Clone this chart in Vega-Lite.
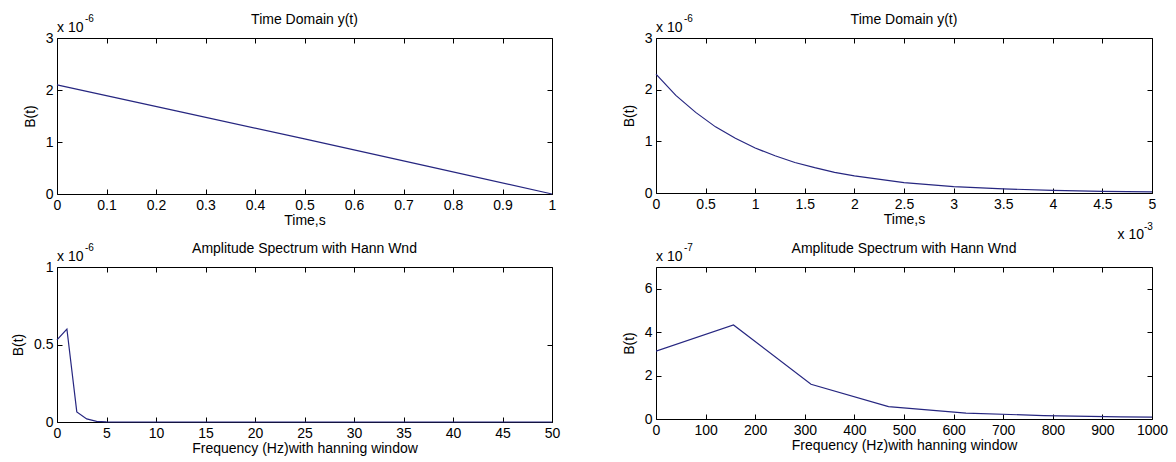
{
  "$schema": "https://vega.github.io/schema/vega-lite/v6.json",
  "padding": {"left": 11, "top": 12, "right": 2, "bottom": 2},
  "background": "#ffffff",
  "columns": 2,
  "spacing": {"column": 104, "row": 73},
  "bounds": "flush",
  "concat": [
    {
      "width": 495, "height": 156,
      "title": {"text": "Time Domain y(t)"},
      "data": {"values": [
        {"t": 0, "B": 2.1e-6}, {"t": 0.25, "B": 1.58e-6}, {"t": 0.5, "B": 1.06e-6}, {"t": 0.75, "B": 0.53e-6}, {"t": 1, "B": 0}
      ]},
      "layer": [
        {"mark": {"type": "line", "color": "#262680", "strokeWidth": 1.2},
         "encoding": {
           "x": {"field": "t", "type": "quantitative", "scale": {"domain": [0, 1], "nice": false, "zero": false},
                 "axis": {"orient": "bottom", "values": [0,0.1,0.2,0.3,0.4,0.5,0.6,0.7,0.8,0.9,1], "labelExpr": "format(datum.value,'~g')", "title": "Time,s"}},
           "y": {"field": "B", "type": "quantitative", "scale": {"domain": [0, 3e-6], "nice": false},
                 "axis": {"orient": "left", "values": [0,1e-6,2e-6,3e-6], "labelExpr": "format(datum.value*1e6,'~g')", "title": "B(t)"}}
         }},
        {"mark": {"type": "line", "opacity": 0},
         "encoding": {
           "x": {"field": "t", "type": "quantitative", "axis": {"orient": "top", "values": [0,0.1,0.2,0.3,0.4,0.5,0.6,0.7,0.8,0.9,1], "labels": false, "title": null}},
           "y": {"field": "B", "type": "quantitative", "axis": {"orient": "right", "values": [0,1e-6,2e-6,3e-6], "labels": false, "title": null}}
         }},
        {"data": {"values": [{"t": 0, "B": 3e-6, "txt": "x 10"}]},
         "mark": {"type": "text", "align": "left", "baseline": "alphabetic", "dy": -6, "fontSize": 14, "color": "#000"},
         "encoding": {"x": {"field": "t", "type": "quantitative", "axis": null}, "y": {"field": "B", "type": "quantitative", "axis": null}, "text": {"field": "txt"}}},
        {"data": {"values": [{"t": 0, "B": 3e-6, "txt": "-6"}]},
         "mark": {"type": "text", "align": "left", "baseline": "alphabetic", "dx": 28, "dy": -16, "fontSize": 10, "color": "#000"},
         "encoding": {"x": {"field": "t", "type": "quantitative", "axis": null}, "y": {"field": "B", "type": "quantitative", "axis": null}, "text": {"field": "txt"}}}
      ],
      "resolve": {"axis": {"x": "independent", "y": "independent"}}
    },
    {
      "width": 496, "height": 155,
      "title": {"text": "Time Domain y(t)"},
      "data": {"values": [
        {"t": 0, "B": 2.30e-6}, {"t": 0.0002, "B": 1.89e-6}, {"t": 0.0004, "B": 1.56e-6}, {"t": 0.0006, "B": 1.28e-6},
        {"t": 0.0008, "B": 1.06e-6}, {"t": 0.001, "B": 0.87e-6}, {"t": 0.0012, "B": 0.72e-6}, {"t": 0.0014, "B": 0.59e-6},
        {"t": 0.0016, "B": 0.49e-6}, {"t": 0.0018, "B": 0.40e-6}, {"t": 0.002, "B": 0.33e-6}, {"t": 0.0025, "B": 0.20e-6},
        {"t": 0.003, "B": 0.125e-6}, {"t": 0.0035, "B": 0.08e-6}, {"t": 0.004, "B": 0.05e-6}, {"t": 0.0045, "B": 0.03e-6},
        {"t": 0.005, "B": 0.02e-6}
      ]},
      "layer": [
        {"mark": {"type": "line", "color": "#262680", "strokeWidth": 1.2},
         "encoding": {
           "x": {"field": "t", "type": "quantitative", "scale": {"domain": [0, 0.005], "nice": false, "zero": false},
                 "axis": {"orient": "bottom", "values": [0,0.0005,0.001,0.0015,0.002,0.0025,0.003,0.0035,0.004,0.0045,0.005], "labelExpr": "format(datum.value*1e3,'~g')", "title": "Time,s"}},
           "y": {"field": "B", "type": "quantitative", "scale": {"domain": [0, 3e-6], "nice": false},
                 "axis": {"orient": "left", "values": [0,1e-6,2e-6,3e-6], "labelExpr": "format(datum.value*1e6,'~g')", "title": "B(t)"}}
         }},
        {"mark": {"type": "line", "opacity": 0},
         "encoding": {
           "x": {"field": "t", "type": "quantitative", "axis": {"orient": "top", "values": [0,0.0005,0.001,0.0015,0.002,0.0025,0.003,0.0035,0.004,0.0045,0.005], "labels": false, "title": null}},
           "y": {"field": "B", "type": "quantitative", "axis": {"orient": "right", "values": [0,1e-6,2e-6,3e-6], "labels": false, "title": null}}
         }},
        {"data": {"values": [{"t": 0, "B": 3e-6, "txt": "x 10"}]},
         "mark": {"type": "text", "align": "left", "baseline": "alphabetic", "dy": -6, "fontSize": 14, "color": "#000"},
         "encoding": {"x": {"field": "t", "type": "quantitative", "axis": null}, "y": {"field": "B", "type": "quantitative", "axis": null}, "text": {"field": "txt"}}},
        {"data": {"values": [{"t": 0, "B": 3e-6, "txt": "-6"}]},
         "mark": {"type": "text", "align": "left", "baseline": "alphabetic", "dx": 28, "dy": -16, "fontSize": 10, "color": "#000"},
         "encoding": {"x": {"field": "t", "type": "quantitative", "axis": null}, "y": {"field": "B", "type": "quantitative", "axis": null}, "text": {"field": "txt"}}},
        {"data": {"values": [{"t": 0.005, "B": 0, "txt": "x 10"}]},
         "mark": {"type": "text", "align": "right", "baseline": "alphabetic", "dx": -8, "dy": 46, "fontSize": 14, "color": "#000"},
         "encoding": {"x": {"field": "t", "type": "quantitative", "axis": null}, "y": {"field": "B", "type": "quantitative", "axis": null}, "text": {"field": "txt"}}},
        {"data": {"values": [{"t": 0.005, "B": 0, "txt": "-3"}]},
         "mark": {"type": "text", "align": "left", "baseline": "alphabetic", "dx": -8, "dy": 37, "fontSize": 10, "color": "#000"},
         "encoding": {"x": {"field": "t", "type": "quantitative", "axis": null}, "y": {"field": "B", "type": "quantitative", "axis": null}, "text": {"field": "txt"}}}
      ],
      "resolve": {"axis": {"x": "independent", "y": "independent"}}
    },
    {
      "width": 495, "height": 155,
      "title": {"text": "Amplitude Spectrum with Hann Wnd"},
      "data": {"values": [
        {"f": 0, "B": 0.53e-6}, {"f": 1, "B": 0.60e-6}, {"f": 2, "B": 0.065e-6}, {"f": 3, "B": 0.02e-6},
        {"f": 4, "B": 0.004e-6}, {"f": 5, "B": 0.001e-6}, {"f": 10, "B": 0}, {"f": 20, "B": 0},
        {"f": 30, "B": 0}, {"f": 40, "B": 0}, {"f": 50, "B": 0}
      ]},
      "layer": [
        {"mark": {"type": "line", "color": "#262680", "strokeWidth": 1.2},
         "encoding": {
           "x": {"field": "f", "type": "quantitative", "scale": {"domain": [0, 50], "nice": false, "zero": false},
                 "axis": {"orient": "bottom", "values": [0,5,10,15,20,25,30,35,40,45,50], "labelExpr": "format(datum.value,'d')", "title": "Frequency (Hz)with hanning window"}},
           "y": {"field": "B", "type": "quantitative", "scale": {"domain": [0, 1e-6], "nice": false},
                 "axis": {"orient": "left", "values": [0,0.5e-6,1e-6], "labelExpr": "format(datum.value*1e6,'~g')", "title": "B(t)"}}
         }},
        {"mark": {"type": "line", "opacity": 0},
         "encoding": {
           "x": {"field": "f", "type": "quantitative", "axis": {"orient": "top", "values": [0,5,10,15,20,25,30,35,40,45,50], "labels": false, "title": null}},
           "y": {"field": "B", "type": "quantitative", "axis": {"orient": "right", "values": [0,0.5e-6,1e-6], "labels": false, "title": null}}
         }},
        {"data": {"values": [{"f": 0, "B": 1e-6, "txt": "x 10"}]},
         "mark": {"type": "text", "align": "left", "baseline": "alphabetic", "dy": -6, "fontSize": 14, "color": "#000"},
         "encoding": {"x": {"field": "f", "type": "quantitative", "axis": null}, "y": {"field": "B", "type": "quantitative", "axis": null}, "text": {"field": "txt"}}},
        {"data": {"values": [{"f": 0, "B": 1e-6, "txt": "-6"}]},
         "mark": {"type": "text", "align": "left", "baseline": "alphabetic", "dx": 28, "dy": -16, "fontSize": 10, "color": "#000"},
         "encoding": {"x": {"field": "f", "type": "quantitative", "axis": null}, "y": {"field": "B", "type": "quantitative", "axis": null}, "text": {"field": "txt"}}}
      ],
      "resolve": {"axis": {"x": "independent", "y": "independent"}}
    },
    {
      "width": 496, "height": 152,
      "title": {"text": "Amplitude Spectrum with Hann Wnd"},
      "data": {"values": [
        {"f": 0, "B": 3.12e-7}, {"f": 156.25, "B": 4.33e-7}, {"f": 312.5, "B": 1.60e-7}, {"f": 468.75, "B": 0.57e-7},
        {"f": 625, "B": 0.27e-7}, {"f": 781.25, "B": 0.16e-7}, {"f": 937.5, "B": 0.10e-7}, {"f": 1093.75, "B": 0.07e-7}
      ]},
      "layer": [
        {"mark": {"type": "line", "color": "#262680", "strokeWidth": 1.2, "clip": true},
         "encoding": {
           "x": {"field": "f", "type": "quantitative", "scale": {"domain": [0, 1000], "nice": false, "zero": false},
                 "axis": {"orient": "bottom", "values": [0,100,200,300,400,500,600,700,800,900,1000], "labelExpr": "format(datum.value,'d')", "title": "Frequency (Hz)with hanning window"}},
           "y": {"field": "B", "type": "quantitative", "scale": {"domain": [0, 7e-7], "nice": false},
                 "axis": {"orient": "left", "values": [0,2e-7,4e-7,6e-7], "labelExpr": "format(datum.value*1e7,'~g')", "title": "B(t)"}}
         }},
        {"mark": {"type": "line", "opacity": 0, "clip": true},
         "encoding": {
           "x": {"field": "f", "type": "quantitative", "axis": {"orient": "top", "values": [0,100,200,300,400,500,600,700,800,900,1000], "labels": false, "title": null}},
           "y": {"field": "B", "type": "quantitative", "axis": {"orient": "right", "values": [0,2e-7,4e-7,6e-7], "labels": false, "title": null}}
         }},
        {"data": {"values": [{"f": 0, "B": 7e-7, "txt": "x 10"}]},
         "mark": {"type": "text", "align": "left", "baseline": "alphabetic", "dy": -6, "fontSize": 14, "color": "#000"},
         "encoding": {"x": {"field": "f", "type": "quantitative", "axis": null}, "y": {"field": "B", "type": "quantitative", "axis": null}, "text": {"field": "txt"}}},
        {"data": {"values": [{"f": 0, "B": 7e-7, "txt": "-7"}]},
         "mark": {"type": "text", "align": "left", "baseline": "alphabetic", "dx": 28, "dy": -16, "fontSize": 10, "color": "#000"},
         "encoding": {"x": {"field": "f", "type": "quantitative", "axis": null}, "y": {"field": "B", "type": "quantitative", "axis": null}, "text": {"field": "txt"}}}
      ],
      "resolve": {"axis": {"x": "independent", "y": "independent"}}
    }
  ],
  "config": {
    "font": "Liberation Sans",
    "view": {"stroke": "#000000", "strokeWidth": 1},
    "axis": {
      "domain": false, "grid": false, "tickColor": "#000000", "tickSize": -5, "tickWidth": 1,
      "labelColor": "#000000", "labelFontSize": 14, "labelFont": "Liberation Sans", "labelPadding": 9,
      "labelFlush": false, "labelOverlap": false,
      "titleFontSize": 14, "titleFont": "Liberation Sans", "titleFontWeight": "normal", "titleColor": "#000000"
    },
    "axisX": {"titlePadding": 1},
    "axisY": {"titlePadding": 8},
    "title": {"fontSize": 14, "font": "Liberation Sans", "fontWeight": "normal", "color": "#000000", "offset": -13, "anchor": "middle"}
  }
}
